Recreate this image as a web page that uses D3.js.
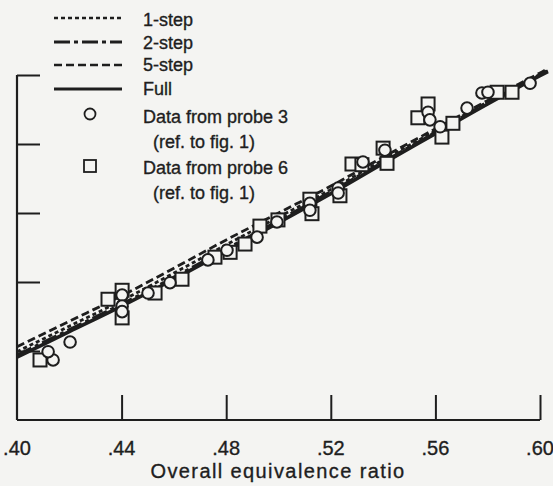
<!DOCTYPE html>
<html><head><meta charset="utf-8">
<script src="https://cdn.jsdelivr.net/npm/d3@7/dist/d3.min.js"></script>
<style>
html,body{margin:0;padding:0;background:#f4f4f2;}
svg{display:block;}
text{font-family:"Liberation Sans",Arial,Helvetica,sans-serif;fill:#1e1e1e;stroke:#1e1e1e;stroke-width:0.35px;}
</style></head>
<body><svg id="c" width="553" height="486"></svg>
<script>
// ---- data ----
const xTicks = [0.40, 0.44, 0.48, 0.52, 0.56, 0.60];
const xTickLabels = [".40", ".44", ".48", ".52", ".56", ".60"];
const yTicks = [0, 1, 2, 3, 4, 5];
const lineX = [0.40, 0.42, 0.44, 0.46, 0.48, 0.50, 0.52, 0.54, 0.56, 0.58, 0.60, 0.603];
const oneStep  = [0.99, 1.36, 1.73, 2.13, 2.54, 2.94, 3.34, 3.77, 4.19, 4.61, 5.01, 5.07];
const twoStep  = [0.94, 1.31, 1.68, 2.07, 2.48, 2.89, 3.31, 3.74, 4.17, 4.60, 5.00, 5.06];
const fiveStep = [1.06, 1.43, 1.80, 2.20, 2.61, 3.00, 3.39, 3.81, 4.22, 4.63, 5.03, 5.09];
const full     = [0.91, 1.28, 1.65, 2.04, 2.45, 2.86, 3.28, 3.72, 4.15, 4.58, 4.99, 5.05];
const probe3X = [0.4138,0.4119,0.4203,0.4402,0.4402,0.4402,0.4501,0.4585,0.4730,0.4803,0.4918,0.4994,0.5120,0.5120,0.5228,0.5228,0.5323,0.5407,0.5572,0.5579,0.5618,0.5721,0.5778,0.5801,0.5962];
const probe3Y = [0.87,0.99,1.13,1.81,1.65,1.57,1.84,1.99,2.32,2.46,2.65,2.87,3.14,3.04,3.36,3.29,3.74,3.91,4.46,4.35,4.25,4.52,4.74,4.75,4.88];
const probe6X = [0.4088,0.4348,0.4402,0.4402,0.4528,0.4631,0.4757,0.4815,0.4872,0.4929,0.4998,0.5120,0.5128,0.5235,0.5281,0.5319,0.5400,0.5415,0.5533,0.5572,0.5625,0.5667,0.5836,0.5893];
const probe6Y = [0.87,1.75,1.88,1.48,1.84,2.04,2.36,2.43,2.55,2.81,2.90,3.20,2.99,3.25,3.71,3.70,3.94,3.72,4.38,4.58,4.10,4.30,4.75,4.75];
const legendLabels = ["1-step", "2-step", "5-step", "Full", "Data from probe 3", "(ref. to fig. 1)", "Data from probe 6", "(ref. to fig. 1)"];
const xTitle = "Overall equivalence ratio";

// ---- drawing ----
const ink = "#1e1e1e", bg = "#f4f4f2";
const svg = d3.select("#c");
const x = d3.scaleLinear().domain([0.40, 0.60]).range([17, 540]);
const y = d3.scaleLinear().domain([0, 5]).range([420, 75]);

// axes
const xAxis = d3.axisBottom(x).tickValues(xTicks).tickSize(-25).tickFormat("");
const gx = svg.append("g").attr("transform", "translate(0,420)").call(xAxis);
gx.select(".domain").attr("stroke", ink).attr("stroke-width", 2.2).attr("d", "M17,0H540");
gx.selectAll(".tick line").attr("stroke", ink).attr("stroke-width", 2);
gx.selectAll(".tick").filter(d => d === 0.40).select("line").remove();

const yAxis = d3.axisLeft(y).tickValues(yTicks).tickSize(-23).tickFormat("");
const gy = svg.append("g").attr("transform", "translate(17,0)").call(yAxis);
gy.select(".domain").attr("stroke", ink).attr("stroke-width", 2.2).attr("d", "M0,75V420");
gy.selectAll(".tick line").attr("stroke", ink).attr("stroke-width", 2);
gy.selectAll(".tick").filter(d => d === 0).select("line").remove();

// tick labels
svg.append("g").selectAll("text").data(xTicks).join("text")
  .attr("x", d => x(d)).attr("y", 455).attr("text-anchor", "middle")
  .attr("font-size", 20).text((d, i) => xTickLabels[i]);
svg.append("text").attr("x", 278).attr("y", 478).attr("text-anchor", "middle")
  .attr("font-size", 20).attr("letter-spacing", 1.4).text(xTitle);

// lines
const lineStyles = [
  {vals: fiveStep, dash: "8,4", w: 2.8},
  {vals: oneStep, dash: "4,3", w: 2.8},
  {vals: twoStep, dash: "16,4,4,4", w: 3},
  {vals: full, dash: null, w: 3.6}
];
const lineGen = d3.line().x(d => x(d[0])).y(d => y(d[1])).curve(d3.curveMonotoneX);
lineStyles.forEach(s => {
  svg.append("path").datum(lineX.map((xv, i) => [xv, s.vals[i]]))
    .attr("d", lineGen).attr("fill", "none").attr("stroke", ink)
    .attr("stroke-width", s.w).attr("stroke-dasharray", s.dash);
});

// markers
svg.append("g").selectAll("rect").data(probe6X.map((v, i) => [v, probe6Y[i]])).join("rect")
  .attr("x", d => x(d[0]) - 6.5).attr("y", d => y(d[1]) - 6.5).attr("width", 13).attr("height", 13)
  .attr("fill", bg).attr("stroke", ink).attr("stroke-width", 2);
svg.append("g").selectAll("circle").data(probe3X.map((v, i) => [v, probe3Y[i]])).join("circle")
  .attr("cx", d => x(d[0])).attr("cy", d => y(d[1])).attr("r", 5.8)
  .attr("fill", bg).attr("stroke", ink).attr("stroke-width", 2);

// legend
const lg = svg.append("g");
const legLines = [
  {y: 18, dash: "4,3", w: 2.6},
  {y: 42, dash: "16,4,4,4", w: 2.8},
  {y: 65, dash: "8,4", w: 2.6},
  {y: 89, dash: null, w: 3}
];
legLines.forEach(l => {
  lg.append("line").attr("x1", 54).attr("x2", 122).attr("y1", l.y).attr("y2", l.y)
    .attr("stroke", ink).attr("stroke-width", l.w).attr("stroke-dasharray", l.dash);
});
lg.append("circle").attr("cx", 90).attr("cy", 114).attr("r", 5.5).attr("fill", "none")
  .attr("stroke", ink).attr("stroke-width", 1.8);
lg.append("rect").attr("x", 84).attr("y", 160).attr("width", 12).attr("height", 12).attr("fill", "none")
  .attr("stroke", ink).attr("stroke-width", 1.8);
const legTextPos = [[143, 20], [143, 43], [143, 65], [143, 89], [143, 117], [153, 142], [143, 168], [153, 193]];
lg.selectAll("text").data(legendLabels).join("text")
  .attr("x", (d, i) => legTextPos[i][0]).attr("y", (d, i) => legTextPos[i][1])
  .attr("dy", "0.35em").attr("font-size", 18).text(d => d);
</script>
</body></html>
